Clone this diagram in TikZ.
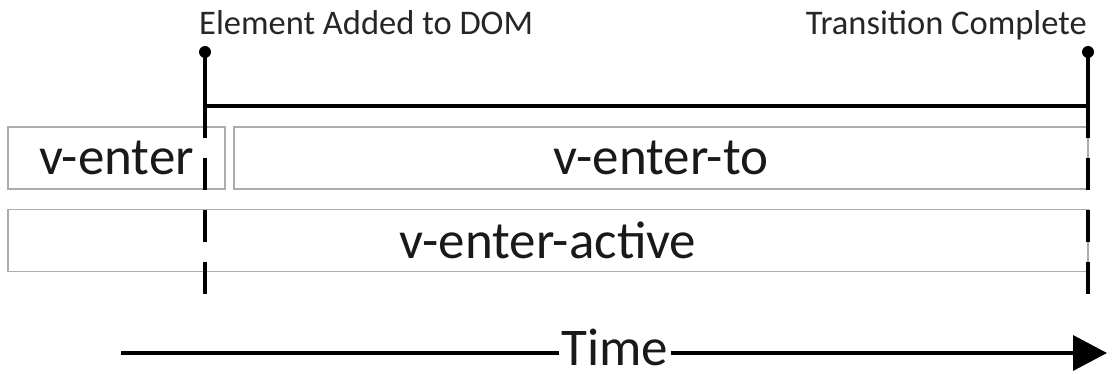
\documentclass[tikz,border=0pt]{standalone}
\usepackage{fontspec}
\setmainfont{Carlito}
\usetikzlibrary{arrows.meta, positioning}

\begin{document}
\begin{tikzpicture}[x=1pt, y=-1pt,
  lbl/.style={font=\fontsize{34.5}{40}\selectfont, text=black!85, inner sep=0pt},
  big/.style={font=\fontsize{53}{60}\selectfont, text=black!90},
  slot/.style={big, draw=gray!65, line width=1.4pt, inner sep=0pt, minimum height=62pt},
  dot/.style={circle, fill=black, inner sep=0pt, minimum size=12pt},
  rule/.style={line width=3.6pt},
  phase/.style={rule, dash pattern=on 32pt off 20pt}]
\useasboundingbox (0,0) rectangle (1114,374);
%%── Event labels ─────────────────────────────────────────
\node[lbl, anchor=base west] (added) at (199,35) {Element Added to DOM};
\node[lbl, anchor=base east] (done) at (1087,35) {Transition Complete};
%%── Class boxes ──────────────────────────────────────────
\node[slot, minimum width=217pt] (enter) at (116.5,158) {v-enter};
\node[slot, minimum width=854pt] (enterto) at (661,158) {v-enter-to};
\node[slot, minimum width=1080pt] (active) at (548,240.5) {v-enter-active};
%%── Event markers ────────────────────────────────────────
\node[dot] (start) at (205,52) {};
\node[dot] (end) at (1088,52) {};
\coordinate (j1) at (205,106);
\coordinate (j2) at (1088,106);
\coordinate (e1) at (205,296);
\coordinate (e2) at (1088,296);
\draw[rule] (start.center) -- (j1) -- (j2);
\draw[rule] (end.center) -- (j2);
\draw[phase] (j1) -- (e1);
\draw[phase] (j2) -- (e2);
%%── Time axis ────────────────────────────────────────────
\node[big, inner sep=2pt, anchor=base] (time) at (615,365) {Time};
\coordinate (t0) at (121,353);
\coordinate (t1) at (1107,353);
\draw[rule] (t0) -- (t0 -| time.west);
\draw[rule, -{Triangle[length=34pt, width=35pt]}] (t1 -| time.east) -- (t1);
\end{tikzpicture}
\end{document}
